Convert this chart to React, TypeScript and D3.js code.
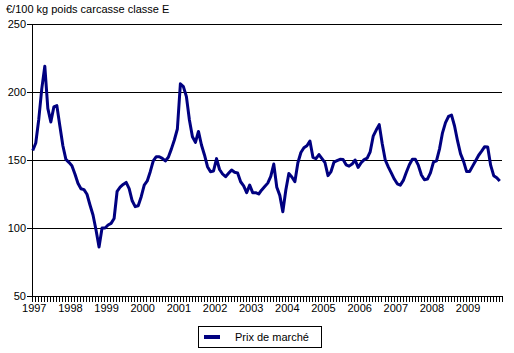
import React from 'react'
import * as d3 from 'd3'

// Monthly market price, Jan 1997 - Dec 2009
const prices = [
  157, 162.5, 180, 202.5, 219, 188, 178, 189, 190, 175, 160.5, 150.5, // 1997
  148.3, 145.8, 139.7, 132.9, 128.9, 128.2, 124.8, 116.9, 109.6, 98.5, 86, 100, // 1998
  100, 102.2, 103.4, 107, 127, 130, 132, 133.5, 129, 120, 115.7, 116.4, // 1999
  123, 131.6, 134.6, 141.4, 149.3, 152.4, 152.4, 151.2, 149.3, 152, 158, 164.7, // 2000
  172.8, 206, 204, 196.6, 179.4, 167.1, 163, 171, 161, 153.7, 145.1, 141.4, // 2001
  141.9, 151, 143, 139.7, 137.7, 140.2, 142.6, 141, 140.5, 134, 131, 126, // 2002
  131.5, 126, 126, 125, 128, 130.5, 133, 138, 147, 130, 124, 112, // 2003
  128, 140, 137.5, 134, 148, 155.5, 159, 160.5, 164, 152, 151, 154, // 2004
  151, 148, 138.5, 141.5, 148.5, 149.5, 150.5, 150.3, 146.5, 145.5, 147, 150, // 2005
  144.5, 148, 150.3, 151.3, 156, 167.5, 172, 176, 162, 150, 145, 140.5, // 2006
  136, 132.5, 131.5, 135, 141, 146.5, 150.5, 150.5, 146, 139, 135.5, 136, // 2007
  140.5, 148.5, 149.3, 158, 170, 177.5, 182, 183, 175, 164, 154.5, 149, // 2008
  141.5, 141.5, 145.5, 149.5, 153.5, 156.5, 159.8, 159.5, 146, 138.5, 137, 134.5 // 2009
]

const years = ['1997', '1998', '1999', '2000', '2001', '2002', '2003', '2004', '2005', '2006', '2007', '2008', '2009']
const yTicks = [50, 100, 150, 200, 250]
const gridValues = [100, 150, 200, 250]

const unitLabel = '€/100 kg poids carcasse classe E'
const seriesName = 'Prix de marché'

const W = 514
const H = 353
const font = '"Liberation Sans", Arial, sans-serif'
const lineColor = '#000080'

export default function App() {
  const left = 32
  const right = 502
  const top = 24
  const bottom = 296

  const nMonths = prices.length
  const x = d3.scaleLinear().domain([0, nMonths]).range([left, right])
  const y = d3.scaleLinear().domain([50, 250]).range([bottom, top])

  const line = d3
    .line<number>()
    .x((d, i) => x(i + 0.25))
    .y(d => y(d))

  const monthTicks = d3.range(nMonths + 1)

  return (
    <svg width={W} height={H} style={{ position: 'absolute', left: 0, top: 0 }} fontFamily={font}>
      <rect width={W} height={H} fill="#fff" />
      <text x={6} y={13} fontSize={11} fill="#000">
        {unitLabel}
      </text>

      {/* gridlines */}
      {gridValues.map(v => (
        <line key={v} x1={left} x2={right} y1={Math.round(y(v)) + 0.5} y2={Math.round(y(v)) + 0.5} stroke="#000" />
      ))}

      {/* y axis */}
      <line x1={left + 0.5} x2={left + 0.5} y1={top} y2={bottom + 1} stroke="#000" />
      {yTicks.map(v => (
        <g key={v}>
          <line x1={left - 5} x2={left} y1={Math.round(y(v)) + 0.5} y2={Math.round(y(v)) + 0.5} stroke="#000" />
          <text x={left - 6} y={y(v) + 4} fontSize={11} textAnchor="end" fill="#000">
            {v}
          </text>
        </g>
      ))}

      {/* x axis */}
      <line x1={left} x2={right + 1} y1={bottom + 0.5} y2={bottom + 0.5} stroke="#000" />
      {monthTicks.map(k => (
        <line
          key={k}
          x1={Math.round(x(k)) + 0.5}
          x2={Math.round(x(k)) + 0.5}
          y1={bottom}
          y2={bottom + 6}
          stroke="#000"
        />
      ))}
      {years.map((yr, k) => (
        <text key={yr} x={x(k * 12 + 0.75)} y={312} fontSize={11} textAnchor="middle" fill="#000">
          {yr}
        </text>
      ))}

      <path d={line(prices) ?? ''} fill="none" stroke={lineColor} strokeWidth={3} strokeLinejoin="round" />

      {/* legend */}
      <rect x={198.5} y={326.5} width={123} height={21} fill="#fff" stroke="#000" />
      <rect x={204} y={335} width={16} height={4} fill={lineColor} />
      <text x={235} y={341} fontSize={11} fill="#000">
        {seriesName}
      </text>
    </svg>
  )
}
